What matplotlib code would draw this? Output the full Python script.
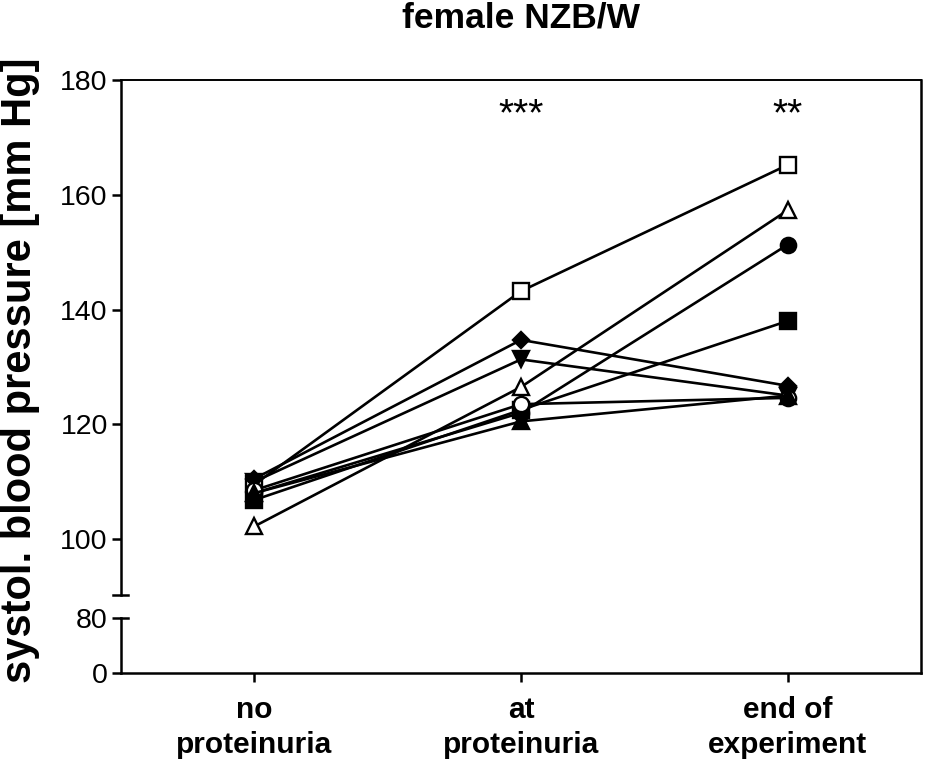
import matplotlib
matplotlib.use("Agg")
from matplotlib import pyplot as plt

plt.rcParams['font.family'] = ['Liberation Sans', 'DejaVu Sans']

grupos = ["no\nproteinuria", "at\nproteinuria", "end of\nexperiment"]
posiciones = [0, 1, 2]

# presion sistolica de cada animal (mm Hg)
cuadrado_abierto = [109.5, 143.2, 165.2]
triangulo_abierto = [102.2, 126.5, 157.3]
circulo_lleno = [108.0, 122.0, 151.3]
cuadrado_lleno = [106.8, 122.5, 138.0]
rombo = [110.5, 134.7, 126.7]
triangulo_abajo = [110.0, 131.3, 125.0]
circulo_abierto = [108.5, 123.5, 124.6]
triangulo_lleno = [108.0, 120.5, 125.0]

estrellas = ["", "***", "**"]
ticks_arriba = [100, 120, 140, 160, 180]
ticks_abajo = [0, 80]

series = [
    (cuadrado_abierto, 's', 'white', 11),
    (triangulo_abierto, '^', 'white', 12),
    (circulo_lleno, 'o', 'black', 11),
    (cuadrado_lleno, 's', 'black', 11),
    (rombo, 'D', 'black', 8),
    (triangulo_abajo, 'v', 'black', 11),
    (circulo_abierto, 'o', 'white', 11),
    (triangulo_lleno, '^', 'black', 11),
]

fig = plt.figure(figsize=(9.25, 7.66), dpi=100)
izq, ancho = 121 / 925, 800 / 925
def fy(px):
    return 1 - px / 766

# marco de fondo (arriba y derecha)
marco = fig.add_axes([izq, fy(673), ancho, fy(80) - fy(673)], zorder=0)
marco.set_xticks([])
marco.set_yticks([])
marco.spines['left'].set_visible(False)
marco.spines['bottom'].set_visible(False)
marco.spines['top'].set_linewidth(1.4)
marco.spines['right'].set_linewidth(1.8)
marco.patch.set_alpha(0)

ax = fig.add_axes([izq, fy(595), ancho, fy(80) - fy(595)], zorder=2)
ax2 = fig.add_axes([izq, fy(673), ancho, fy(618) - fy(673)], zorder=2)
for a in (ax, ax2):
    a.patch.set_alpha(0)
    a.set_xlim(-0.5, 2.5)
    for s in ['top', 'right']:
        a.spines[s].set_visible(False)
    a.spines['left'].set_linewidth(1.8)
    a.tick_params(axis='y', length=6.5, width=1.8, labelsize=20.5, pad=3)

ax.spines['bottom'].set_visible(False)
ax.set_ylim(90.24, 180)
ax.set_yticks(ticks_arriba)
ax.set_xticks([])
ax2.set_ylim(0, 80)
ax2.set_yticks(ticks_abajo)
ax2.spines['bottom'].set_linewidth(1.8)
ax2.set_xticks(posiciones)
ax2.set_xticklabels(grupos, fontsize=21.5, fontweight='bold', linespacing=1.3)
ax2.tick_params(axis='x', length=6.5, width=1.8, pad=10)

# marcas del corte del eje
ax.plot([-0.0105, 0.009], [0, 0], transform=ax.transAxes, color='black', lw=1.8, clip_on=False)
ax2.plot([0, 0.009], [1, 1], transform=ax2.transAxes, color='black', lw=1.8, clip_on=False)

for valores, marcador, relleno, tam in series:
    ax.plot(posiciones, valores, color='black', lw=1.9, marker=marcador, markersize=tam,
            markerfacecolor=relleno, markeredgecolor='black', markeredgewidth=1.7, clip_on=False)

for x, txt in zip(posiciones, estrellas):
    ax.text(x, 173.8, txt, ha='center', va='center', fontsize=28)

fig.text((121 + 921) / 2 / 925, fy(28), "female NZB/W", ha='center', va='baseline',
         fontsize=25.5, fontweight='bold')
fig.text(20 / 925, fy(370), "systol. blood pressure [mm Hg]", rotation=90, ha='center',
         va='center', fontsize=30, fontweight='bold')

fig.savefig("out.png", dpi=100)
